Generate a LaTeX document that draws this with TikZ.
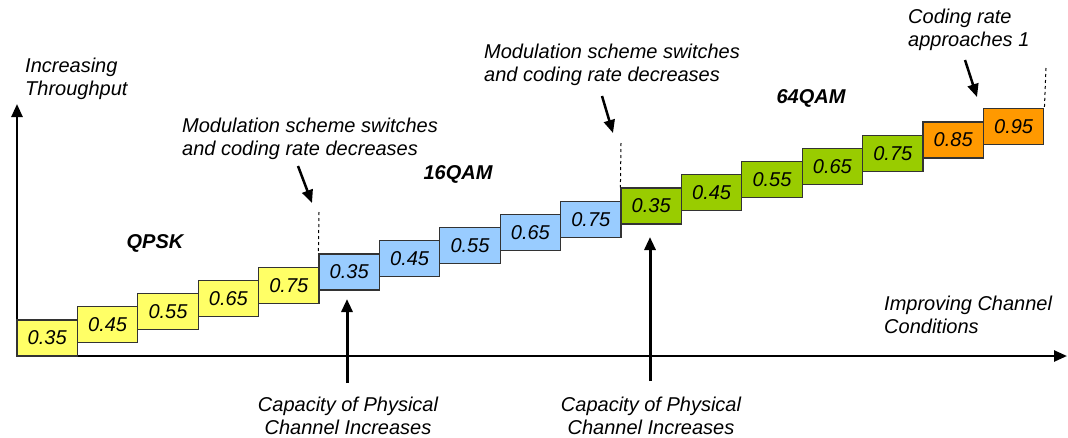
\documentclass[tikz,border=0pt]{standalone}
\usepackage{fontspec}
\setmainfont{Liberation Sans}
\usetikzlibrary{arrows.meta}

\definecolor{qpskyellow}{RGB}{255,255,102}
\definecolor{qamblue}{RGB}{153,204,255}
\definecolor{qamgreen}{RGB}{153,204,0}
\definecolor{qamorange}{RGB}{255,153,0}

\begin{document}
\begin{tikzpicture}[x=1pt,y=-1pt,
    rate/.style={rectangle, draw=black!80, line width=1.2pt, minimum width=60.4pt,
      minimum height=36pt, inner sep=0pt, font=\fontsize{20}{23}\selectfont\itshape},
    note/.style={inner sep=0pt, align=left, font=\fontsize{20}{23}\selectfont\itshape},
    scheme/.style={inner sep=0pt, font=\fontsize{20}{23}\selectfont\bfseries\itshape},
    axis/.style={line width=2.5pt, -{Triangle[length=13pt,width=11pt]}},
    pointer/.style={line width=2.5pt, -{Triangle[length=13pt,width=11pt]}},
    border/.style={line width=1pt, dash pattern=on 3pt off 3pt}]

      \useasboundingbox (0,0) rectangle (1068,437);

      % axes
      \coordinate (o)    at (17,356);
      \coordinate (ytip) at (17,104);
      \coordinate (xtip) at (1067,356);
      \draw[axis] (o) -- (ytip);
      \draw[axis] (o) -- (xtip);

      \begin{scope}[every node/.style={rate, fill=qpskyellow}]
        \node (1)  at (47.2,338)   {0.35};
        \node (2)  at (107.6,324.8) {0.45};
        \node (3)  at (168.0,311.6) {0.55};
        \node (4)  at (228.4,298.4) {0.65};
        \node (5)  at (288.8,285.2) {0.75};
      \end{scope}

      \begin{scope}[every node/.style={rate, fill=qamblue}]
        \node (6)  at (349.2,272)   {0.35};
        \node (7)  at (409.6,258.8) {0.45};
        \node (8)  at (470.0,245.6) {0.55};
        \node (9)  at (530.4,232.4) {0.65};
        \node (10) at (590.8,219.2) {0.75};
      \end{scope}

      \begin{scope}[every node/.style={rate, fill=qamgreen}]
        \node (11) at (651.2,206)   {0.35};
        \node (12) at (711.6,192.8) {0.45};
        \node (13) at (772.0,179.6) {0.55};
        \node (14) at (832.4,166.4) {0.65};
        \node (15) at (892.8,153.2) {0.75};
      \end{scope}

      \begin{scope}[every node/.style={rate, fill=qamorange}]
        \node (16) at (953.2,140)   {0.85};
        \node (17) at (1013.6,126.8) {0.95};
      \end{scope}

      % labels
      \node[note, anchor=west] (thr) at (25,79)  {Increasing\\Throughput};
      \node[note, anchor=west] (imp) at (884,315) {Improving Channel\\Conditions};
      \node[note, anchor=west] (modA) at (182,139) {Modulation scheme switches\\and coding rate decreases};
      \node[note, anchor=west] (modB) at (484,65)  {Modulation scheme switches\\and coding rate decreases};
      \node[note, anchor=west] (cod) at (908,30)  {Coding rate\\approaches 1};
      \node[note, align=center] (capA) at (348,416) {Capacity of Physical\\Channel Increases};
      \node[note, align=center] (capB) at (651,416) {Capacity of Physical\\Channel Increases};

      \node[scheme] (qpsk) at (155,243) {QPSK};
      \node[scheme] (qam16) at (458,174) {16QAM};
      \node[scheme] (qam64) at (811,98)  {64QAM};

      % switch marks
      \coordinate (dA) at (319,212);
      \coordinate (dB) at (621,143);
      \coordinate (dC) at (1046,68);
      \draw[border] (dA) -- (6.north west);
      \draw[border] (dB) -- (11.north west);
      \draw[border] (dC) -- (17.north east);

      % pointers
      \coordinate (pA) at (298,166);
      \coordinate (pAend) at (312,203);
      \coordinate (pB) at (602,96);
      \coordinate (pBend) at (613,133);
      \coordinate (pC) at (965,60);
      \coordinate (pCend) at (977,97);
      \draw[pointer] (pA) -- (pAend);
      \draw[pointer] (pB) -- (pBend);
      \draw[pointer] (pC) -- (pCend);

      \coordinate (uA) at (347,383);
      \coordinate (uAend) at (347,299);
      \coordinate (uB) at (650,381);
      \coordinate (uBend) at (650,237);
      \draw[pointer, line width=3pt] (uA) -- (uAend);
      \draw[pointer, line width=3pt] (uB) -- (uBend);

    \end{tikzpicture}
\end{document}
